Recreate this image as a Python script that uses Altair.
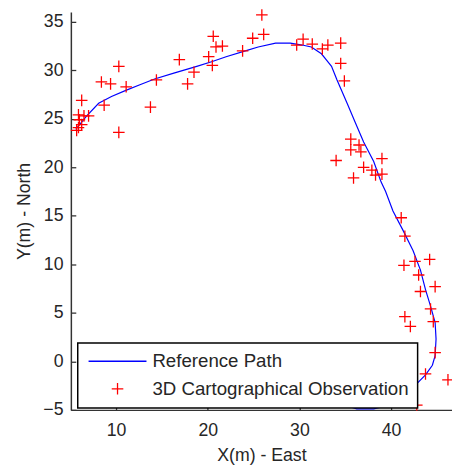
import altair as alt
import pandas as pd

# Reference path (blue line)
path_x = [5.6, 6.2, 6.8, 8.1, 9.5, 11.0, 12.6, 14.2, 16.3, 18.8, 20.5, 22.0, 24.1, 25.5,
          27.4, 29.0, 30.3, 31.3, 32.4, 33.0, 33.5, 34.1, 35.2, 36.1, 37.0, 38.1, 38.9,
          39.4, 40.2, 41.3, 42.4, 43.2, 43.75, 44.3, 44.8, 44.9, 44.8, 44.5, 43.75, 42.7,
          41.8, 41.0, 39.9, 38.1, 36.25, 34.9, 34.0]
path_y = [23.9, 24.6, 25.3, 26.6, 27.3, 27.9, 28.5, 29.1, 29.7, 30.4, 30.9, 31.4, 32.0, 32.4,
          32.8, 32.8, 32.6, 32.4, 31.7, 31.0, 30.4, 29.0, 26.6, 24.6, 22.6, 20.6, 18.5,
          17.5, 15.5, 13.5, 11.4, 9.4, 7.4, 5.7, 4.0, 2.3, 0.6, -0.4, -1.4, -2.4,
          -3.2, -3.9, -4.5, -4.9, -4.9, -4.5, -4.0]

# 3D cartographical observations (red +)
obs_x = [5.7, 5.9, 6.25, 6.0, 5.9, 6.5, 7.0, 6.25, 8.7, 10.3, 8.4, 9.4, 11.1, 10.3, 13.75,
         14.4, 16.9, 17.8, 18.5, 20.1, 20.5, 20.6, 20.9, 21.6, 23.8, 24.9, 26.1, 25.9,
         29.7, 30.4, 31.4, 32.5, 33.1, 34.5, 34.5, 34.9, 35.6, 35.6, 36.5, 36.7, 34.0,
         39.0, 37.0, 37.9, 38.3, 39.0, 35.9, 41.1, 41.5, 41.4, 42.6, 44.2, 43.0, 44.8,
         43.2, 44.3, 41.5, 42.1, 44.6, 44.8, 43.75, 46.2, 42.8]
obs_y = [23.8, 24.1, 24.4, 24.9, 25.4, 25.3, 25.3, 26.9, 26.4, 23.6, 28.8, 28.6, 28.3, 30.4, 26.2,
         29.0, 31.1, 28.6, 29.8, 31.4, 30.5, 33.5, 32.4, 32.5, 32.0, 33.3, 33.7, 35.7,
         32.6, 33.2, 32.7, 32.2, 32.6, 32.8, 30.7, 28.9, 22.9, 21.8, 22.3, 21.6, 20.7,
         20.9, 20.0, 19.7, 19.2, 19.3, 18.9, 14.8, 12.9, 9.9, 10.3, 10.5, 8.9, 7.7,
         7.2, 5.4, 4.6, 3.6, 4.1, 0.9, -1.3, -1.9, -4.5]

x_ticks = [10, 20, 30, 40]
y_ticks = [-5, 0, 5, 10, 15, 20, 25, 30, 35]
series = ["Reference Path", "3D Cartographical Observation"]

path_df = pd.DataFrame({"x": path_x, "y": path_y, "order": list(range(len(path_x))),
                        "series": series[0]})
obs_df = pd.DataFrame({"x": obs_x, "y": obs_y, "series": series[1]})

W, H = 388, 405
FONT = "Liberation Sans"
TXT = "#262626"
AX = "#333333"

xscale = alt.Scale(domain=[5.07, 46.64], nice=False, zero=False)
yscale = alt.Scale(domain=[-5, 36.0], nice=False, zero=False)

LINE_PATH = "M-5,0H5"
PLUS_PATH = "M-1,0H1M0,-1V1"

legend = alt.Legend(
    title=None, orient="none", legendX=7, legendY=337, padding=9,
    labelFont=FONT, labelFontSize=19, labelColor=TXT, labelLimit=400,
    labelOffset=26, symbolOffset=22, rowPadding=8,
    symbolSize=139, symbolStrokeWidth=1.3,
    strokeColor="black", fillColor="white",
)

color = alt.Color("series:N", scale=alt.Scale(domain=series, range=["#0000ff", "#ff0000"]),
                  legend=legend)
shape = alt.Shape("series:N", scale=alt.Scale(domain=series, range=[LINE_PATH, PLUS_PATH]),
                  legend=legend)

bottom_axis = alt.Axis(orient="bottom", values=x_ticks, ticks=False, grid=False,
                       domainColor=AX, domainWidth=1.5,
                       labelFont=FONT, labelFontSize=18, labelColor=TXT, labelPadding=12,
                       title="X(m) - East", titleFont=FONT, titleFontSize=18,
                       titleFontWeight="normal", titleColor=TXT, titlePadding=8)
left_axis = alt.Axis(orient="left", values=y_ticks, ticks=False, grid=False,
                     domainColor=AX, domainWidth=1.5,
                     labelFont=FONT, labelFontSize=18, labelColor=TXT, labelPadding=8,
                     title="Y(m) - North", titleFont=FONT, titleFontSize=18,
                     titleFontWeight="normal", titleColor=TXT, titlePadding=10)
xtick_axis = alt.Axis(orient="top", offset=-H, values=x_ticks, ticks=True, tickSize=5,
                      tickColor=AX, tickWidth=1.3, labels=False, domain=False,
                      grid=False, title=None)
ytick_axis = alt.Axis(orient="right", offset=-W, values=y_ticks, ticks=True, tickSize=5,
                      tickColor=AX, tickWidth=1.3, labels=False, domain=False,
                      grid=False, title=None)

line = alt.Chart(path_df).mark_line(strokeWidth=1.2).encode(
    x=alt.X("x:Q", scale=xscale, axis=bottom_axis),
    y=alt.Y("y:Q", scale=yscale, axis=left_axis),
    order="order:Q",
    color=color,
)

points = alt.Chart(obs_df).mark_point(filled=False, size=139, strokeWidth=1.3, opacity=1).encode(
    x=alt.X("x:Q", scale=xscale, axis=xtick_axis),
    y=alt.Y("y:Q", scale=yscale, axis=ytick_axis),
    color=color,
    shape=shape,
)

chart = alt.layer(line, points).resolve_axis(x="independent", y="independent").properties(
    width=W, height=H,
    autosize=alt.AutoSizeParams(type="none"),
    padding={"left": 64, "top": 0, "right": 0, "bottom": 53},
).configure_view(strokeWidth=0).configure_legend(strokeWidth=1.5)

chart.save("out.html", embed_options={"renderer": "svg", "actions": False})
